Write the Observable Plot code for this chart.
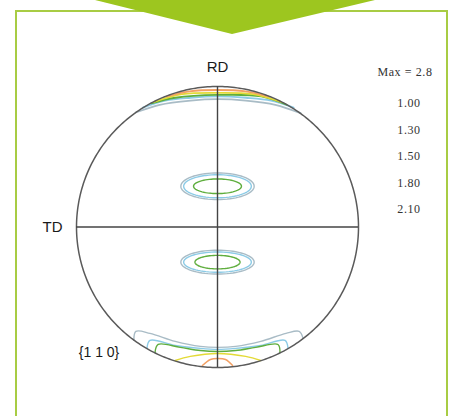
<!DOCTYPE html>
<html><head><meta charset="utf-8">
<script src="https://cdn.jsdelivr.net/npm/d3@7"></script>
<script src="https://cdn.jsdelivr.net/npm/@observablehq/plot@0.6"></script>
<style>
html,body{margin:0;padding:0;background:#fff;width:457px;height:416px;overflow:hidden;}
#wrap{position:relative;width:457px;height:416px;}
#box{position:absolute;left:15px;top:10px;width:429px;height:430px;border:2px solid #a8cc44;}
#arrow{position:absolute;left:0;top:0;}
#chart{position:absolute;left:0;top:0;}
#legend{position:absolute;left:362px;top:64px;width:86px;font-family:"Liberation Serif",serif;font-size:12px;color:#333;text-align:center;letter-spacing:0.6px;}
#legend .max{height:31px;line-height:16px;}
#legend .lv{height:26.5px;line-height:16px;padding-left:8px;}
</style>
</head><body>
<div id="wrap">
  <div id="box"></div>
  <svg id="arrow" width="457" height="40"><polygon points="95,0 375,0 232,34" fill="#9dc61f"/></svg>
  <div id="chart"></div>
  <div id="legend"></div>
</div>
<script>
// contour levels and colours
const levels = [1.00, 1.30, 1.50, 1.80, 2.10];
const levelLabels = ["1.00", "1.30", "1.50", "1.80", "2.10"];
const levelColors = ["#a9bcc6", "#8ccbe6", "#5fae3e", "#e3da36", "#f2a064"];
const maxLabel = "Max = 2.8";

// top rim band contours (unit-disk coords u,v)
const top100 = [[-0.58,0.815],[-0.41,0.87],[-0.19,0.90],[0,0.91],[0.20,0.90],[0.41,0.87],[0.59,0.81]];
const top130 = [[-0.53,0.85],[-0.37,0.90],[-0.19,0.92],[0,0.93],[0.20,0.92],[0.38,0.90],[0.54,0.85]];
const top150 = [[-0.47,0.88],[-0.30,0.92],[0,0.94],[0.31,0.93],[0.49,0.87]];
const top180 = [[-0.45,0.89],[-0.25,0.945],[0,0.955],[0.25,0.945],[0.45,0.89]];
const top210 = [[-0.36,0.93],[-0.2,0.965],[0,0.975],[0.2,0.965],[0.36,0.93]];

// bottom rim contours
const bot100 = [[-0.593,-0.807],[-0.579,-0.743],[-0.479,-0.757],[-0.30,-0.814],[-0.121,-0.85],[0,-0.857],[0.129,-0.85],[0.307,-0.814],[0.486,-0.757],[0.579,-0.743],[0.607,-0.793]];
const bot130 = [[-0.50,-0.864],[-0.479,-0.807],[-0.30,-0.843],[-0.121,-0.864],[0,-0.871],[0.129,-0.864],[0.307,-0.843],[0.479,-0.807],[0.50,-0.864]];
const bot150 = [[-0.443,-0.893],[-0.421,-0.836],[-0.264,-0.857],[-0.121,-0.879],[0,-0.886],[0.129,-0.879],[0.271,-0.857],[0.429,-0.836],[0.443,-0.893]];
const bot180 = [[-0.30,-0.95],[-0.193,-0.921],[0,-0.90],[0.20,-0.921],[0.307,-0.95]];
const bot210 = [[-0.107,-0.986],[-0.05,-0.943],[0,-0.936],[0.057,-0.943],[0.107,-0.986]];

// central elliptical contours: level, centre v, radius u, radius v
const ellLevel = [1.00, 1.30, 1.50, 1.00, 1.30, 1.50];
const ellCv    = [0.29, 0.29, 0.29, -0.25, -0.25, -0.25];
const ellRu    = [0.26, 0.24, 0.17, 0.26, 0.24, 0.16];
const ellRv    = [0.095, 0.082, 0.052, 0.085, 0.072, 0.048];

// axis labels
const labels = [
  {u: 0, v: 1.14, text: "RD"},
  {u: -1.17, v: 0, text: "TD"},
  {u: -0.84, v: -0.89, text: "{1 1 0}"}
];

const rows = [];
const addPath = (id, level, pts) => pts.forEach(([u, v]) => rows.push({id, level, u, v}));
[[top100,1.00],[top130,1.30],[top150,1.50],[top180,1.80],[top210,2.10]].forEach(([p,l],i)=>addPath("t"+i,l,p));
[[bot100,1.00],[bot130,1.30],[bot150,1.50],[bot180,1.80],[bot210,2.10]].forEach(([p,l],i)=>addPath("b"+i,l,p));

const ellRows = [];
ellLevel.forEach((l, i) => {
  d3.range(0, 73).forEach(k => {
    const a = k / 72 * 2 * Math.PI;
    ellRows.push({id: "e" + i, level: l, u: ellRu[i] * Math.cos(a), v: ellCv[i] + ellRv[i] * Math.sin(a)});
  });
});

const rim = d3.range(0, 361).map(k => ({u: Math.cos(k * Math.PI / 180), v: Math.sin(k * Math.PI / 180)}));

const chart = Plot.plot({
  width: 457, height: 416, margin: 0,
  style: {background: "transparent"},
  x: {domain: [-1, 1], range: [76, 358], axis: null},
  y: {domain: [-1, 1], range: [367, 86], axis: null},
  color: {type: "ordinal", domain: levels, range: levelColors},
  marks: [
    Plot.line(rows, {x: "u", y: "v", z: "id", stroke: "level", strokeWidth: d => d.id.startsWith("t") ? 1.8 : 1.4, curve: "catmull-rom"}),
    Plot.line(ellRows, {x: "u", y: "v", z: "id", stroke: "level", strokeWidth: 1.4}),
    Plot.line(rim, {x: "u", y: "v", stroke: "#5a5a5a", strokeWidth: 1.5}),
    Plot.ruleX([0], {y1: -1, y2: 1, stroke: "#444", strokeWidth: 1.4}),
    Plot.ruleY([0], {x1: -1, x2: 1, stroke: "#444", strokeWidth: 1.4}),
    Plot.text(labels, {x: "u", y: "v", text: "text", fontSize: d => d.text.startsWith("{") ? 14 : 15, fontFamily: "Liberation Sans, Arial, sans-serif", fill: "#1a1a1a", letterSpacing: d => d.text.startsWith("{") ? "0.8px" : "0.3px"})
  ]
});
document.getElementById("chart").appendChild(chart);

const lg = document.getElementById("legend");
const m = document.createElement("div"); m.className = "max"; m.textContent = maxLabel; lg.appendChild(m);
levelLabels.forEach(t => { const d = document.createElement("div"); d.className = "lv"; d.textContent = t; lg.appendChild(d); });
</script>
</body></html>
